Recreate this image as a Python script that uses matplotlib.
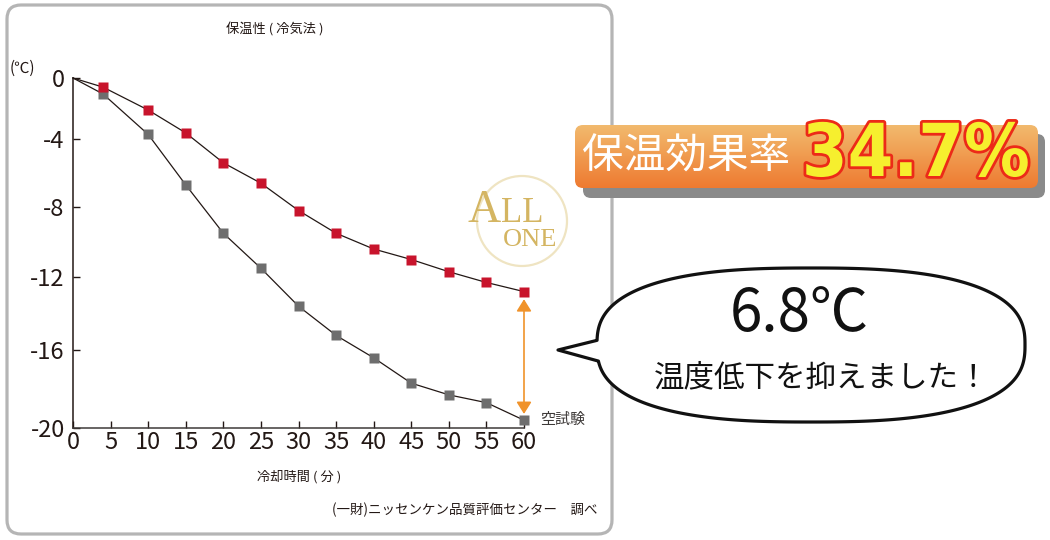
import numpy as np
import matplotlib
matplotlib.use("Agg")
import matplotlib.pyplot as plt
import matplotlib.font_manager as fm
from matplotlib.patches import FancyBboxPatch, Circle, Polygon
import matplotlib.patheffects as pe

plt.rcParams['font.family'] = ['Noto Sans CJK JP', 'DejaVu Sans']

# ---- data ----
minutes = [0, 4, 10, 15, 20, 25, 30, 35, 40, 45, 50, 55, 60]
insulated = [0, -0.6, -2.1, -3.6, -5.4, -6.6, -8.2, -9.5, -10.4, -11.0, -11.7, -12.3, -12.8]
blank = [0, -1.05, -3.7, -6.7, -9.5, -11.5, -13.6, -15.2, -16.4, -17.7, -18.3, -18.7, -19.6]
x_ticks = list(range(0, 61, 5))
y_ticks = [0, -4, -8, -12, -16, -20]
title = "保温性 ( 冷気法 )"
x_label = "冷却時間 ( 分 )"
y_unit = "(℃)"
blank_label = "空試験"
source = "(一財)ニッセンケン品質評価センター　調べ"
banner_label = "保温効果率"
banner_value = "34.7%"
bubble_value = "6.8℃"
bubble_text = "温度低下を抑えました！"

# the reference axis spaces its ticks unevenly; reproduce that spacing
tick_vals = np.array([-40, -20, -16, -12, -8, -4, 0, 20], dtype=float)
tick_pos = np.array([-428 - 20 * 78 / 4, -428, -350, -277, -207, -139, -78, -78 + 20 * 61 / 4],
                    dtype=float)


def fwd(v):
    return np.interp(v, tick_vals, tick_pos)


def inv(p):
    return np.interp(p, tick_pos, tick_vals)


def condensed_bold():
    best = None
    for f in fm.fontManager.ttflist:
        nm = f.name
        st = str(f.stretch)
        try:
            w = int(f.weight)
        except Exception:
            w = 700 if 'bold' in str(f.weight).lower() else 400
        narrow = ('Narrow' in nm or 'Condensed' in nm or 'condensed' in st
                  or 'Condensed' in f.fname or 'Narrow' in f.fname)
        if narrow and w >= 600 and 'Oblique' not in f.fname and 'Italic' not in f.fname:
            if best is None or 'Liberation' in nm:
                best = f.fname
    if best:
        return fm.FontProperties(fname=best)
    return fm.FontProperties(family=['Liberation Sans', 'DejaVu Sans'], weight='bold')


W, H = 1050, 540
fig = plt.figure(figsize=(W / 100, H / 100), dpi=100)

# background / decoration layer in pixel coords
bg = fig.add_axes([0, 0, 1, 1], zorder=0)
bg.set_xlim(0, W)
bg.set_ylim(H, 0)
bg.axis('off')

panel = FancyBboxPatch((7, 5), 605, 529, boxstyle="round,pad=0,rounding_size=14",
                       facecolor='white', edgecolor='#b5b5b5', linewidth=2.3)
bg.add_patch(panel)

# logo watermark
bg.add_patch(Circle((522, 221), 45, fill=False, edgecolor='#efe4c2', linewidth=1.6))
gold = '#d4b562'
serif = ['Liberation Serif', 'DejaVu Serif']
bg.text(468, 222, "A", fontsize=33, color=gold, family=serif, ha='left', va='baseline')
bg.text(501, 222, "LL", fontsize=25, color=gold, family=serif, ha='left', va='baseline')
bg.text(503, 246, "ONE", fontsize=19, color=gold, family=serif, ha='left', va='baseline')

# texts around chart
dark = '#231815'
bg.text(275, 30, title, fontsize=9.5, color=dark, ha='center', va='center')
bg.text(10, 68, y_unit, fontsize=11, color=dark, ha='left', va='center')
bg.text(299, 477, x_label, fontsize=9.5, color=dark, ha='center', va='center')
bg.text(597, 510, source, fontsize=9.7, color=dark, ha='right', va='center')

# ---- chart ----
ax = fig.add_axes([73 / W, (H - 428) / H, (524 - 73) / W, (428 - 78) / H], zorder=1)
ax.patch.set_alpha(0)
ax.set_yscale('function', functions=(fwd, inv))
ax.set_xlim(0, 60)
ax.set_ylim(-20, 0)
ax.set_xticks(x_ticks)
ax.set_yticks(y_ticks)
ax.set_yticklabels([str(v) for v in y_ticks])
for s in ['top', 'right']:
    ax.spines[s].set_visible(False)
ax.spines['left'].set_color(dark)
ax.spines['bottom'].set_color('#3e3a39')
ax.spines['left'].set_linewidth(1.1)
ax.spines['bottom'].set_linewidth(1.1)
ax.tick_params(axis='both', direction='in', length=5, width=1, color=dark,
               labelsize=17, labelcolor=dark)
ax.tick_params(axis='x', pad=2)
ax.tick_params(axis='y', pad=6)
ax.minorticks_off()

ax.plot(minutes, blank, color=dark, lw=0.9, zorder=2, clip_on=False)
ax.plot(minutes, insulated, color=dark, lw=0.9, zorder=2, clip_on=False)
ax.plot(minutes[1:], blank[1:], ls='none', marker='s', ms=7.2, color='#6e6e6e',
        mec='none', zorder=3, clip_on=False)
ax.plot(minutes[1:], insulated[1:], ls='none', marker='s', ms=7.2, color='#c8142c',
        mec='none', zorder=3, clip_on=False)

ax.annotate("", xy=(minutes[-1], blank[-1]), xytext=(minutes[-1], insulated[-1]),
            arrowprops=dict(arrowstyle='<|-|>,head_length=0.4,head_width=0.25',
                            color='#f0932b', lw=1.2, shrinkA=5.5, shrinkB=4.5,
                            mutation_scale=18), annotation_clip=False)
ax.annotate(blank_label, xy=(minutes[-1], blank[-1]), xytext=(11.5, 0),
            textcoords='offset points', fontsize=10.8, color='#3e3a39',
            ha='left', va='center', annotation_clip=False)

# ---- overlay: banner and speech bubble ----
ov = fig.add_axes([0, 0, 1, 1], zorder=2)
ov.patch.set_alpha(0)
ov.axis('off')

shadow = FancyBboxPatch((583, 134), 462, 64, boxstyle="round,pad=0,rounding_size=8",
                        facecolor='#8a8a8a', edgecolor='none')
ov.add_patch(shadow)
clip = FancyBboxPatch((575, 125), 463, 63, boxstyle="round,pad=0,rounding_size=8",
                      facecolor='none', edgecolor='none')
ov.add_patch(clip)
top_c = np.array([242, 186, 110]) / 255
bot_c = np.array([238, 122, 48]) / 255
t = np.linspace(0, 1, 64)[:, None, None]
grad = top_c[None, None, :] * (1 - t) + bot_c[None, None, :] * t
im = ov.imshow(grad, extent=[575, 1038, 188, 125], origin='upper', aspect='auto',
               interpolation='bilinear', zorder=1)
im.set_clip_path(clip)

ov.text(686, 157, banner_label, fontsize=30, color='white', ha='center', va='center', zorder=3)
val_txt = ov.text(916, 176, banner_value, fontproperties=condensed_bold(), color='#f6ef2e',
                  ha='center', va='baseline', zorder=4,
                  path_effects=[pe.withStroke(linewidth=4, foreground='#ec2a18')])
val_txt.set_fontsize(60)

# speech bubble: superellipse with tail
cx, cy, a, b, n = 811, 345, 214, 77, 2.6
th = np.linspace(0, 2 * np.pi, 721)
bx = cx + a * np.sign(np.cos(th)) * np.abs(np.cos(th)) ** (2 / n)
by = cy + b * np.sign(np.sin(th)) * np.abs(np.sin(th)) ** (2 / n)
keep = []
inserted = False
for (px, py) in zip(bx, by):
    if px < cx and 341 < py < 361:
        if not inserted:
            keep.append((558, 350))
            inserted = True
        continue
    keep.append((px, py))
bubble = Polygon(keep, closed=True, facecolor='white', edgecolor='#111111', linewidth=2.3,
                 joinstyle='round', zorder=5)
ov.add_patch(bubble)
ov.text(799, 315, bubble_value, fontsize=42, color='#111111', ha='center', va='center', zorder=6)
ov.text(654, 378, bubble_text, fontsize=22, color='#111111', ha='left', va='center', zorder=6)

ov.set_xlim(0, W)
ov.set_ylim(H, 0)

# fit the big percentage to the banner width seen in the reference
renderer = fig.canvas.get_renderer()
wpx = val_txt.get_window_extent(renderer=renderer).width
val_txt.set_fontsize(60 * 228 / wpx)

fig.savefig("out.png", dpi=100)
